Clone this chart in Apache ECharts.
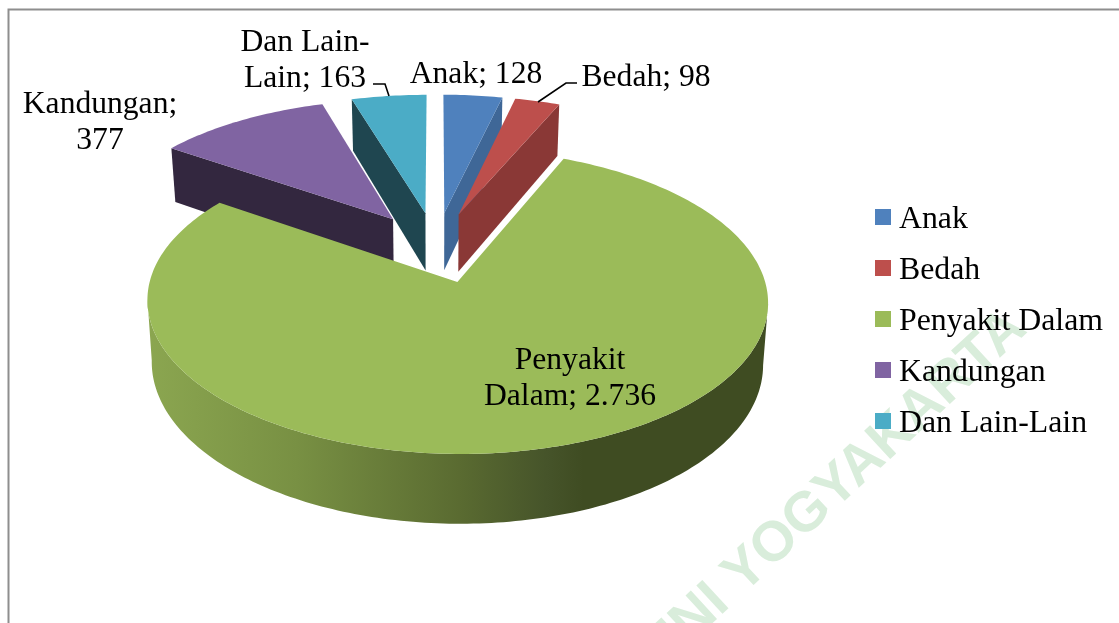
<!DOCTYPE html>
<html>
<head>
<meta charset="utf-8">
<style>html,body{margin:0;padding:0;background:#fff}#chart{width:1119px;height:623px}</style>
<script src="https://cdn.jsdelivr.net/npm/echarts@6/dist/echarts.min.js"></script>
</head>
<body>
<div id="chart"></div>
<script>
// Patient counts per department
const categories = ['Anak', 'Bedah', 'Penyakit Dalam', 'Kandungan', 'Dan Lain-Lain'];
const values = [128, 98, 2736, 377, 163];

// Face colours per slice
const topColors = ['#4F81BD', '#BD4F4C', '#9BBB59', '#8064A2', '#4BACC6'];
const cutColors = ['#3F6797', '#8A3836', '#5A6B31', '#33273F', '#1F4650'];
const labelBreaks = [null, null, 'Penyakit ', 'Kandungan; ', 'Dan Lain-'];
const labelAnchors = [[476, 75], [646, 78], [570, 379], [100, 123], [305, 61]];
const paintOrder = [3, 4, 5, 2, 6]; // series z: back slices first, the large slice last
const leaders = { 1: [[577, 83], [566, 83], [538, 102]], 4: [[373, 84], [385, 84], [389, 96]] };

// Perspective model of the pie plane
const CX = 436, CY = 247, SX = 298.5, SY = 141, PERSP = 0.125;
const EXPLODE = 0.25, DEPTH = 59, BOTTOM_SHRINK = 0.985;
const FONT = '31.6px "Liberation Serif", "Times New Roman", serif';

// Square swatch sitting in the upper part of a taller symbol box
const LEGEND_ICON = 'path://M0,0h16v16h-16z M0,21h16v0h-16z';

const total = values.reduce((a, b) => a + b, 0);
const starts = values.map((_, i) => values.slice(0, i).reduce((a, b) => a + b, 0));
const toRad = Math.PI / 180;

function project(u, v) {
  const w = 1 + PERSP * v;
  return { x: CX + SX * u / w, y: CY - SY * v / w, w };
}
function topPoint(ox, oy, r, deg) {
  const p = project(ox + r * Math.sin(deg * toRad), oy + r * Math.cos(deg * toRad));
  return [p.x, p.y, p.w];
}
function lower(pt) {
  return [CX + (pt[0] - CX) * BOTTOM_SHRINK, pt[1] + DEPTH / pt[2]];
}
function xy(pt) { return [pt[0], pt[1]]; }

function formatCount(n) {
  return String(n).replace(/\B(?=(\d{3})+$)/g, '.');
}
function labelText(i) {
  const text = categories[i] + '; ' + formatCount(values[i]);
  const br = labelBreaks[i];
  return br ? br.trimEnd() + '\n' + text.slice(br.length) : text;
}

const wallGradient = new echarts.graphic.LinearGradient(148, 0, 770, 0, [
  { offset: 0, color: '#8BA650' },
  { offset: 0.24, color: '#789043' },
  { offset: 0.5, color: '#5A6B31' },
  { offset: 0.64, color: '#46542A' },
  { offset: 0.7, color: '#3F4C22' },
  { offset: 1, color: '#3F4C22' }
], true);

function renderSlice(i, api) {
  const value = api.value(0), start = api.value(1);
  const a0 = start / total * 360, a1 = (start + value) / total * 360;
  const mid = (a0 + a1) / 2;
  const ox = EXPLODE * Math.sin(mid * toRad), oy = EXPLODE * Math.cos(mid * toRad);
  const tip = topPoint(ox, oy, 0, 0);
  const arc = [];
  const steps = Math.max(8, Math.ceil(a1 - a0));
  for (let s = 0; s <= steps; s++) {
    arc.push(topPoint(ox, oy, 1, a0 + (a1 - a0) * s / steps));
  }
  const children = [];

  // outer wall: the part of the rim between its right and left silhouette points
  const near = arc.filter((_, s) => Math.cos((a0 + (a1 - a0) * s / steps) * toRad) < 0.5);
  if (near.length > 1) {
    const xs = near.map((p) => p[0]);
    const from = xs.indexOf(Math.max(...xs));
    const to = xs.indexOf(Math.min(...xs));
    const rim = near.slice(from, to + 1);
    const pts = rim.map(xy).concat(rim.map(lower).reverse());
    children.push({
      type: 'polygon', shape: { points: pts },
      style: { fill: i === 2 ? wallGradient : cutColors[i] }
    });
  }
  // radial cut faces that turn towards the viewer
  const cut = (outer) => children.push({
    type: 'polygon',
    shape: { points: [xy(tip), xy(outer), lower(outer), lower(tip)] },
    style: { fill: cutColors[i] }
  });
  if (Math.sin(a0 * toRad) < -0.001) cut(arc[0]);
  if (Math.sin(a1 * toRad) > 0.001) cut(arc[arc.length - 1]);

  // top face
  children.push({
    type: 'polygon',
    shape: { points: [xy(tip)].concat(arc.map(xy)) },
    style: { fill: topColors[i] }
  });

  // value label and its leader
  if (leaders[i]) {
    children.push({
      type: 'polyline', shape: { points: leaders[i] },
      style: { stroke: '#000', lineWidth: 1.6, fill: null }
    });
  }
  children.push({
    type: 'text',
    style: {
      text: labelText(i), x: labelAnchors[i][0], y: labelAnchors[i][1],
      font: FONT, fill: '#000', align: 'center', verticalAlign: 'middle', lineHeight: 36
    }
  });
  return { type: 'group', children };
}

const chart = echarts.init(document.getElementById('chart'), null, { renderer: 'canvas' });
chart.setOption({
  animation: false,
  backgroundColor: '#fff',
  legend: {
    data: categories,
    orient: 'vertical',
    left: 870,
    top: 196.5,
    icon: LEGEND_ICON,
    itemWidth: 16,
    itemHeight: 21,
    itemGap: 15,
    selectedMode: false,
    textStyle: {
      fontFamily: '"Liberation Serif", "Times New Roman", serif',
      fontSize: 31.8, color: '#000', lineHeight: 36, padding: [0, 0, 0, 3]
    }
  },
  graphic: [
    {
      type: 'polyline', silent: true, z: -2,
      shape: { points: [[8.5, 623], [8.5, 9.5], [1119, 9.5]] },
      style: { stroke: '#8E8E8E', lineWidth: 2, fill: null }
    },
    {
      type: 'text', silent: true, z: -1,
      x: 1018, y: 320, rotation: 42.7 * toRad,
      style: {
        text: 'UNI YOGYAKARTA',
        font: 'bold 56px "Liberation Sans", Arial, sans-serif',
        fill: '#D9EDDB', align: 'right', verticalAlign: 'middle'
      }
    }
  ],
  series: categories.map((name, i) => ({
    type: 'custom',
    name,
    coordinateSystem: 'none',
    z: paintOrder[i],
    silent: true,
    itemStyle: { color: topColors[i] },
    data: [[values[i], starts[i]]],
    renderItem: (params, api) => renderSlice(i, api)
  }))
});
</script>
</body>
</html>
